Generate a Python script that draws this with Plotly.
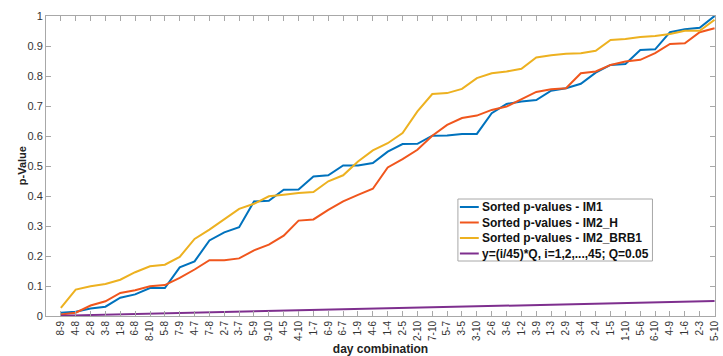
import plotly.graph_objects as go

# Day-pair combinations (x axis), in order of the sorted IM1 p-values
day_pairs = [
    "8-9", "4-8", "2-8", "3-8", "1-8", "6-8", "8-10", "5-8", "7-9", "4-7",
    "7-8", "2-7", "3-7", "5-9", "9-10", "4-5", "4-10", "1-7", "6-9", "6-7",
    "1-9", "4-6", "1-4", "2-5", "2-10", "7-10", "5-7", "3-5", "3-10", "2-6",
    "3-6", "1-2", "3-9", "1-3", "2-9", "3-4", "2-4", "1-5", "1-10", "5-6",
    "6-10", "4-9", "1-6", "2-3", "5-10",
]
index = list(range(1, len(day_pairs) + 1))

p_im1 = [
    0.011, 0.014, 0.025, 0.031, 0.061, 0.072, 0.093, 0.093, 0.162, 0.182,
    0.252, 0.279, 0.296, 0.382, 0.384, 0.421, 0.422, 0.465, 0.469, 0.502,
    0.502, 0.510, 0.548, 0.573, 0.574, 0.601, 0.602, 0.607, 0.607, 0.676,
    0.707, 0.715, 0.720, 0.751, 0.759, 0.774, 0.811, 0.837, 0.840, 0.887,
    0.889, 0.946, 0.956, 0.961, 1.000,
]
p_im2_h = [
    0.005, 0.011, 0.035, 0.049, 0.077, 0.086, 0.099, 0.103, 0.127, 0.155,
    0.186, 0.186, 0.192, 0.219, 0.238, 0.268, 0.318, 0.322, 0.354, 0.382,
    0.404, 0.424, 0.495, 0.523, 0.554, 0.601, 0.637, 0.660, 0.668, 0.687,
    0.698, 0.723, 0.747, 0.756, 0.759, 0.809, 0.815, 0.837, 0.848, 0.854,
    0.876, 0.907, 0.909, 0.946, 0.959,
]
p_im2_brb1 = [
    0.027, 0.088, 0.099, 0.107, 0.121, 0.146, 0.166, 0.171, 0.197, 0.257,
    0.288, 0.321, 0.357, 0.374, 0.399, 0.404, 0.410, 0.413, 0.449, 0.469,
    0.515, 0.552, 0.576, 0.610, 0.682, 0.740, 0.743, 0.757, 0.793, 0.809,
    0.815, 0.824, 0.862, 0.869, 0.874, 0.876, 0.884, 0.920, 0.923, 0.930,
    0.933, 0.940, 0.951, 0.951, 0.987,
]
# Benjamini-Hochberg threshold line, (i/45)*0.05
bh_threshold = [
    0.0011, 0.0022, 0.0033, 0.0044, 0.0056, 0.0067, 0.0078, 0.0089, 0.0100, 0.0111,
    0.0122, 0.0133, 0.0144, 0.0156, 0.0167, 0.0178, 0.0189, 0.0200, 0.0211, 0.0222,
    0.0233, 0.0244, 0.0256, 0.0267, 0.0278, 0.0289, 0.0300, 0.0311, 0.0322, 0.0333,
    0.0344, 0.0356, 0.0367, 0.0378, 0.0389, 0.0400, 0.0411, 0.0422, 0.0433, 0.0444,
    0.0456, 0.0467, 0.0478, 0.0489, 0.0500,
]
y_ticks = [0, 0.1, 0.2, 0.3, 0.4, 0.5, 0.6, 0.7, 0.8, 0.9, 1]

series = [
    ("Sorted p-values - IM1", p_im1, "#0072BD"),
    ("Sorted p-values - IM2_H", p_im2_h, "#F0561D"),
    ("Sorted p-values - IM2_BRB1", p_im2_brb1, "#EDB120"),
    ("y=(i/45)*Q, i=1,2,...,45; Q=0.05", bh_threshold, "#7E2F8E"),
]

W, H = 723, 356
M_L, M_R, M_T, M_B = 46, 3, 16, 40
PLOT_W = W - M_L - M_R
PLOT_H = H - M_T - M_B


def px_to_paper_x(px):
    return (px - M_L) / PLOT_W


def px_to_paper_y(py):
    return (H - M_B - py) / PLOT_H


fig = go.Figure()
for name, values, color in series:
    fig.add_trace(go.Scatter(
        x=index, y=values, mode="lines", name=name,
        line=dict(color=color, width=2),
    ))

axis_grey = "#a8a8a8"
font_family = "Liberation Sans, Arial, sans-serif"

# Boxed legend in the lower right part of the axes
shapes = []
annotations = []
box_left, box_right, box_top, box_bottom = 461, 657, 199, 261
shapes.append(dict(
    type="rect", xref="paper", yref="paper",
    x0=px_to_paper_x(box_left), x1=px_to_paper_x(box_right),
    y0=px_to_paper_y(box_bottom), y1=px_to_paper_y(box_top),
    line=dict(color=axis_grey, width=1), fillcolor="white", layer="above",
))
row_y = [207, 222.5, 238, 253.5]
for (name, _, color), ry in zip(series, row_y):
    shapes.append(dict(
        type="line", xref="paper", yref="paper",
        x0=px_to_paper_x(463), x1=px_to_paper_x(482),
        y0=px_to_paper_y(ry), y1=px_to_paper_y(ry),
        line=dict(color=color, width=2), layer="above",
    ))
    annotations.append(dict(
        text=name, xref="paper", yref="paper",
        x=px_to_paper_x(483), y=px_to_paper_y(ry),
        xanchor="left", yanchor="middle", showarrow=False,
        font=dict(family=font_family, size=12, color="#111111", weight="bold"),
    ))

# y-axis title
annotations.append(dict(
    text="p-Value", xref="paper", yref="paper",
    x=px_to_paper_x(22), y=0.5, textangle=-90,
    xanchor="center", yanchor="middle", showarrow=False,
    font=dict(family=font_family, size=11, color="#222222", weight="bold"),
))

fig.update_layout(
    width=W, height=H,
    margin=dict(l=M_L, r=M_R, t=M_T, b=M_B),
    paper_bgcolor="white", plot_bgcolor="white",
    font=dict(family=font_family, color="#333333", size=10),
    showlegend=False,
    shapes=shapes,
    annotations=annotations,
    xaxis=dict(
        range=[0, 45.03],
        tickmode="array", tickvals=index, ticktext=day_pairs,
        tickangle=-90, tickfont=dict(size=10, color="#333333"),
        ticklabeloverflow="allow",
        ticks="inside", ticklen=5, tickcolor=axis_grey,
        showline=True, linecolor=axis_grey, linewidth=1, mirror="ticks",
        showgrid=False, zeroline=False,
        title=dict(text="day combination", standoff=4,
                   font=dict(size=12, color="#222222", weight="bold")),
    ),
    yaxis=dict(
        range=[0, 1],
        tickmode="array", tickvals=y_ticks,
        ticktext=[f"{v:g}" for v in y_ticks],
        tickfont=dict(size=11, color="#333333"),
        ticks="inside", ticklen=5, tickcolor=axis_grey,
        showline=True, linecolor=axis_grey, linewidth=1, mirror="ticks",
        showgrid=False, zeroline=False,
    ),
)

fig.write_html("out.html")
